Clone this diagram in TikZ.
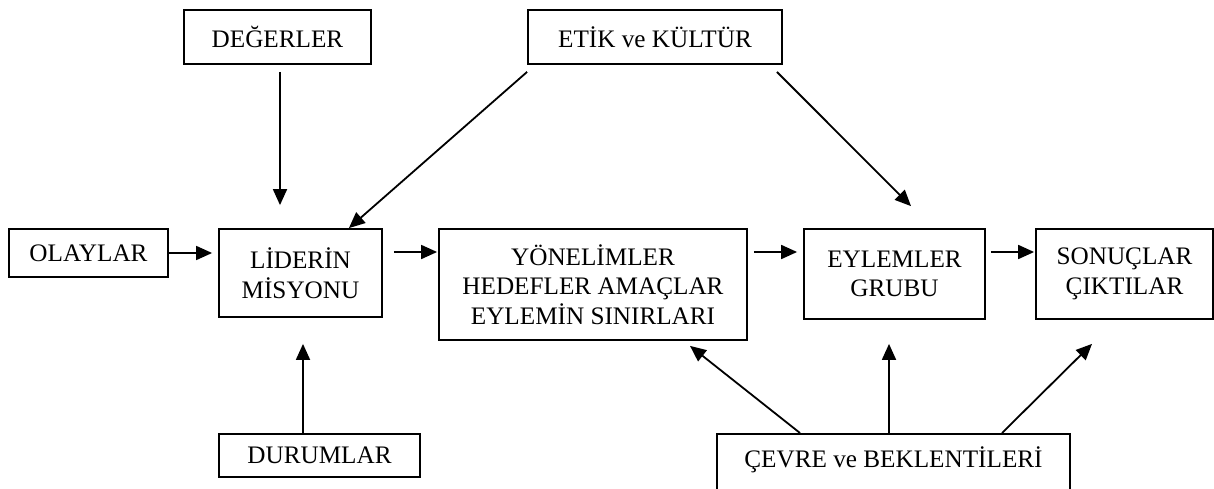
\documentclass[tikz,border=0pt]{standalone}
\usepackage{fontspec}
\setmainfont{Liberation Serif}
\usetikzlibrary{arrows.meta}
\tikzset{
  box/.style={draw, line width=1.8pt, inner sep=0pt, align=center,
    font=\fontsize{25.2}{29.5}\selectfont},
  arr/.style={line width=1.8pt, -{Triangle[length=16pt,width=14pt]}}
}
\begin{document}
\begin{tikzpicture}[x=1pt,y=-1pt]
\useasboundingbox (0,0) rectangle (1214,489);
\clip (0,0) rectangle (1214,489);
\fill[white] (0,0) rectangle (1214,489);
\node[box, minimum width=187pt, minimum height=54pt] (deg) at (277.5,37) {DEĞERLER};
\node[box, minimum width=254pt, minimum height=54pt] (etik) at (655,37) {ETİK ve KÜLTÜR};
\node[box, minimum width=159pt, minimum height=48pt] (olay) at (88.5,253) {OLAYLAR};
\node[box, minimum width=163pt, minimum height=88pt] (lider) at (300.5,273) {LİDERİN\\MİSYONU};
\node[box, minimum width=308pt, minimum height=111pt] (yon) at (593,284.5) {YÖNELİMLER\\HEDEFLER AMAÇLAR\\EYLEMİN SINIRLARI};
\node[box, minimum width=181pt, minimum height=90pt] (eylem) at (894.5,274) {EYLEMLER\\GRUBU};
\node[box, minimum width=177pt, minimum height=90pt] (sonuc) at (1124.5,274) {SONUÇLAR\\ÇIKTILAR};
\node[box, minimum width=201pt, minimum height=43pt] (durum) at (319.5,455.5) {DURUMLAR};
\node[box, minimum width=353pt, text height=34pt, text depth=30pt, anchor=north] (cevre) at (893.5,433) {ÇEVRE ve BEKLENTİLERİ};
\coordinate (row) at (0,252);
% arrows
\draw[arr] ([xshift=2.5pt,yshift=-7pt]deg.south) -- ([xshift=-20.5pt,yshift=23pt]lider.north);
\draw[arr] ([yshift=-7pt]etik.south west) -- ([xshift=-34pt]lider.north east);
\draw[arr] ([xshift=-6pt,yshift=-7pt]etik.south east) -- ([xshift=16.5pt,yshift=22pt]eylem.north);
\draw[arr, shorten >=6pt] (olay.east) -- (olay.east -| lider.west);
\draw[arr, shorten <=11pt, shorten >=1pt] (row -| lider.east) -- (row -| yon.west);
\draw[arr, shorten <=6pt, shorten >=6pt] (row -| yon.east) -- (row -| eylem.west);
\draw[arr, shorten <=5pt, shorten >=1pt] (row -| eylem.east) -- (row -| sonuc.west);
\draw[arr, shorten >=26pt] ([xshift=-16.5pt]durum.north) -- ([xshift=-16.5pt]durum.north |- lider.south);
\draw[arr] ([xshift=-93.5pt]cevre.north) -- ([xshift=97pt,yshift=-5pt]yon.south);
\draw[arr] ([xshift=-4.5pt]cevre.north) -- ([xshift=-5.5pt,yshift=-24pt]eylem.south);
\draw[arr] ([xshift=108.5pt]cevre.north) -- ([xshift=-32.5pt,yshift=-24pt]sonuc.south);
\end{tikzpicture}
\end{document}
